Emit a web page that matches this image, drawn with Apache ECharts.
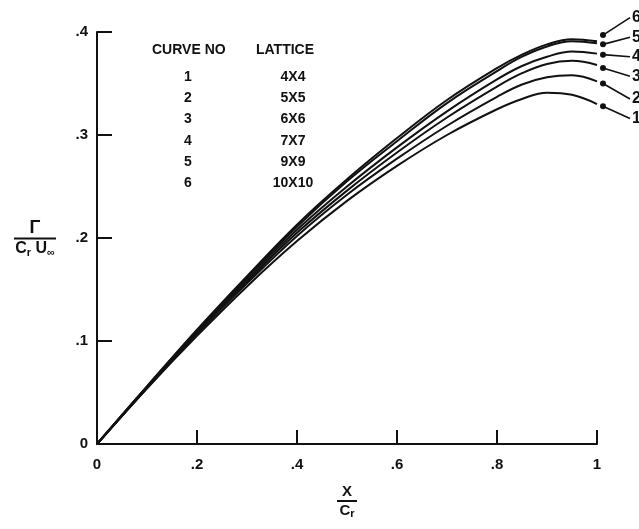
<!DOCTYPE html>
<html>
<head>
<meta charset="utf-8">
<script src="https://cdn.jsdelivr.net/npm/echarts@6/dist/echarts.min.js"></script>
<style>
html, body { margin: 0; padding: 0; background: #fff; }
#chart { width: 639px; height: 529px; }
</style>
</head>
<body>
<div id="chart"></div>
<script>
// x / c_r stations
var xs = [0, 0.1, 0.2, 0.3, 0.4, 0.5, 0.6, 0.7, 0.8, 0.85, 0.9, 0.95, 1.0];
// gamma / (c_r U_inf) for each lattice
var curve1 = [0, 0.054, 0.105, 0.153, 0.197, 0.236, 0.270, 0.300, 0.325, 0.335, 0.341, 0.339, 0.330];
var curve2 = [0, 0.054, 0.107, 0.156, 0.202, 0.242, 0.277, 0.309, 0.337, 0.349, 0.356, 0.358, 0.352];
var curve3 = [0, 0.055, 0.108, 0.158, 0.205, 0.246, 0.283, 0.317, 0.347, 0.360, 0.369, 0.372, 0.368];
var curve4 = [0, 0.055, 0.109, 0.160, 0.208, 0.250, 0.288, 0.323, 0.354, 0.367, 0.376, 0.381, 0.379];
var curve5 = [0, 0.056, 0.110, 0.162, 0.211, 0.255, 0.294, 0.331, 0.362, 0.376, 0.386, 0.391, 0.389];
var curve6 = [0, 0.056, 0.111, 0.163, 0.213, 0.257, 0.297, 0.334, 0.365, 0.378, 0.388, 0.393, 0.391];

var curveNos = ['1', '2', '3', '4', '5', '6'];
var lattices = ['4X4', '5X5', '6X6', '7X7', '9X9', '10X10'];

// leader lines at the right edge: dot at the curve end -> curve number
var dotX = 1.012;
var tagX = 1.066;
var dotY = [0.328, 0.350, 0.365, 0.378, 0.388, 0.397];
var tagY = [0.316, 0.335, 0.357, 0.376, 0.395, 0.414];

var xTicks = [0, 0.2, 0.4, 0.6, 0.8, 1];
var yTicks = [0, 0.1, 0.2, 0.3, 0.4];

var font = 'Liberation Sans';
var ink = '#111';

function tickText (v) {
  v = +v.toFixed(1);
  if (v === 0) return '0';
  if (v === 1) return '1';
  return String(v).replace(/^0/, '');
}

var curves = [curve1, curve2, curve3, curve4, curve5, curve6];
var series = curves.map(function (c, i) {
  return {
    type: 'line',
    name: curveNos[i],
    data: xs.map(function (x, k) { return [x, c[k]]; }),
    smooth: 0.4,
    showSymbol: false,
    lineStyle: { color: ink, width: 2 },
    z: 3
  };
});

// legend table
var table = [];
table.push({ type: 'text', left: 152, top: 43,
  style: { text: 'CURVE NO', fill: ink, font: 'bold 14px "' + font + '"' } });
table.push({ type: 'text', left: 256, top: 43,
  style: { text: 'LATTICE', fill: ink, font: 'bold 14px "' + font + '"' } });
curveNos.forEach(function (n, i) {
  var y = 77 + i * 21.3;
  table.push({ type: 'text', x: 188, y: y,
    style: { text: n, fill: ink, font: 'bold 14px "' + font + '"', textAlign: 'center', textVerticalAlign: 'middle' } });
  table.push({ type: 'text', x: 293, y: y,
    style: { text: lattices[i], fill: ink, font: 'bold 14px "' + font + '"', textAlign: 'center', textVerticalAlign: 'middle' } });
});

var chart = echarts.init(document.getElementById('chart'));
var option = {
  backgroundColor: '#fff',
  animation: false,
  grid: { left: 97, right: 42, top: 32, bottom: 85 },
  xAxis: {
    type: 'value', min: 0, max: 1, interval: 0.2,
    name: '{n|X}\n{bar| }\n{n|C}{sub|r}',
    nameLocation: 'middle', nameGap: 40,
    nameTextStyle: {
      align: 'center',
      rich: {
        n: { fontFamily: font, fontWeight: 'bold', fontSize: 15, color: ink, lineHeight: 15 },
        bar: { width: 20, height: 2, backgroundColor: ink, fontSize: 1, lineHeight: 4 },
        sub: { fontFamily: font, fontWeight: 'bold', fontSize: 11, color: ink, lineHeight: 15, padding: [7, 0, 0, 0] }
      }
    },
    axisLine: { lineStyle: { color: ink, width: 2 } },
    axisTick: { inside: true, length: 14, lineStyle: { color: ink, width: 2 } },
    axisLabel: {
      margin: 13, color: ink, fontFamily: font, fontWeight: 'bold', fontSize: 15,
      formatter: tickText
    },
    splitLine: { show: false }
  },
  yAxis: {
    type: 'value', min: 0, max: 0.4, interval: 0.1,
    name: '{g|Γ}\n{bar| }\n{n|C}{sub|r}{n| U}{sub|∞}',
    nameLocation: 'middle', nameRotate: 0, nameGap: 62,
    nameTextStyle: {
      align: 'center',
      rich: {
        g: { fontFamily: font, fontWeight: 'bold', fontSize: 18, color: ink, lineHeight: 17, align: 'center' },
        bar: { width: 42, height: 2, backgroundColor: ink, fontSize: 1, lineHeight: 4, align: 'center' },
        n: { fontFamily: font, fontWeight: 'bold', fontSize: 16, color: ink, lineHeight: 16 },
        sub: { fontFamily: font, fontWeight: 'bold', fontSize: 11, color: ink, lineHeight: 16, padding: [8, 0, 0, 0] }
      }
    },
    axisLine: { show: true, lineStyle: { color: ink, width: 2 } },
    axisTick: { show: true, inside: true, length: 15, lineStyle: { color: ink, width: 2 } },
    axisLabel: {
      margin: 9, color: ink, fontFamily: font, fontWeight: 'bold', fontSize: 15,
      formatter: tickText
    },
    splitLine: { show: false }
  },
  graphic: table,
  series: series
};
option && chart.setOption(option);

// leader lines and curve numbers, placed through the axes
var leaders = [];
curveNos.forEach(function (n, i) {
  var p0 = chart.convertToPixel({ gridIndex: 0 }, [dotX, dotY[i]]);
  var p1 = chart.convertToPixel({ gridIndex: 0 }, [tagX, tagY[i]]);
  leaders.push({ type: 'line', shape: { x1: p0[0], y1: p0[1], x2: p1[0], y2: p1[1] },
    style: { stroke: ink, lineWidth: 1.6 }, z: 10 });
  leaders.push({ type: 'circle', shape: { cx: p0[0], cy: p0[1], r: 3 },
    style: { fill: ink }, z: 10 });
  leaders.push({ type: 'text', x: p1[0] + 2, y: p1[1],
    style: { text: n, fill: ink, font: 'bold 16px "' + font + '"', textVerticalAlign: 'middle' }, z: 10 });
});
chart.setOption({ graphic: table.concat(leaders) });
</script>
</body>
</html>
